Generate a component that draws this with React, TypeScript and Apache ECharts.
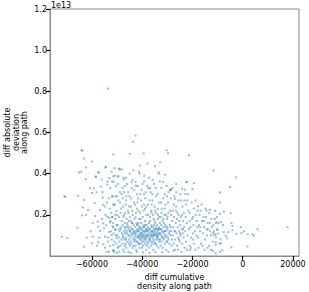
import React, { useEffect, useRef } from "react";
import * as echarts from "echarts";

// x: diff cumulative density along path; y: diff absolute deviation along path (in units of 1e13)
const outlierPoints: [number, number][] = [
  [-53600, 0.813], [-42600, 0.585], [-43600, 0.555],
];

const leftPoints: [number, number][] = [
  [-64000, 0.512], [-63200, 0.473], [-59900, 0.459], [-62400, 0.43], [-64300, 0.41], [-57200, 0.406],
  [-54700, 0.43], [-49300, 0.424], [-58500, 0.384], [-62500, 0.374], [-56100, 0.372], [-53100, 0.379],
  [-52000, 0.362], [-60800, 0.33], [-59300, 0.328], [-56500, 0.337], [-53900, 0.346], [-49700, 0.387],
  [-70700, 0.289], [-65600, 0.293], [-60000, 0.306], [-55700, 0.284], [-51900, 0.289], [-63200, 0.272],
  [-58900, 0.257], [-55500, 0.249], [-51500, 0.249], [-63600, 0.236], [-61500, 0.223], [-56800, 0.223],
  [-63900, 0.197], [-62400, 0.2], [-58700, 0.194], [-54600, 0.2], [-53100, 0.185], [-50700, 0.2],
  [-59700, 0.161], [-57700, 0.167], [-55500, 0.159], [-52800, 0.164], [-65800, 0.138], [-57500, 0.143],
  [-55200, 0.135], [-51800, 0.143], [-50200, 0.151], [-56800, 0.122], [-53100, 0.116], [-50700, 0.127],
  [-72000, 0.093], [-69800, 0.088], [-62100, 0.089], [-59700, 0.094], [-57100, 0.089], [-54800, 0.094],
  [-52200, 0.102], [-50200, 0.086], [-60100, 0.062], [-57500, 0.067], [-55500, 0.057], [-53500, 0.07],
  [-51500, 0.054], [-63100, 0.045], [-54200, 0.021], [-51500, 0.024], [-49500, 0.045], [-49100, 0.021],
  [-65200, 0.406], [-57500, 0.406], [-54400, 0.434], [-51100, 0.427], [-48200, 0.421], [-51500, 0.493],
  [-64100, 0.514], [-58500, 0.387], [-53800, 0.362], [-51500, 0.387], [-49500, 0.387], [-47300, 0.371],
  [-71000, 0.289], [-58200, 0.31], [-56000, 0.18], [-54000, 0.26], [-60500, 0.12], [-58000, 0.05],
];

const upperMidPoints: [number, number][] = [
  [-44900, 0.496], [-39400, 0.498], [-37900, 0.449], [-32800, 0.455], [-34900, 0.436], [-33500, 0.406],
  [-30900, 0.395], [-43600, 0.416], [-44200, 0.358], [-42500, 0.341], [-39200, 0.362], [-36900, 0.33],
  [-33000, 0.362], [-22400, 0.359], [-19400, 0.355], [-29000, 0.322], [-23000, 0.322], [-20000, 0.325],
  [-30300, 0.514], [-29700, 0.501], [-21400, 0.489], [-11600, 0.415], [-22200, 0.36], [-24100, 0.327],
  [-28600, 0.323], [-22800, 0.301], [-30200, 0.289], [-27000, 0.278], [-17800, 0.242], [-14400, 0.221],
  [-13100, 0.224], [-10400, 0.162], [-11800, 0.111], [-46500, 0.38], [-41000, 0.4], [-35800, 0.37],
  [-26500, 0.35], [-40800, 0.44], [-47800, 0.33], [-38600, 0.31],
];

const rightPoints: [number, number][] = [
  [-2700, 0.382], [-5100, 0.335], [-9100, 0.309], [-9000, 0.259], [-7500, 0.215], [-4800, 0.208],
  [-9100, 0.205], [-4500, 0.161], [-8700, 0.166], [-10700, 0.162], [-7800, 0.15], [-4100, 0.146],
  [-800, 0.14], [17800, 0.14], [5900, 0.13], [-10000, 0.127], [-4100, 0.125], [500, 0.12],
  [-7600, 0.116], [-5700, 0.116], [-2500, 0.107], [-500, 0.111], [2000, 0.106], [3900, 0.106],
  [4500, 0.099], [-10800, 0.106], [-6800, 0.099], [-6300, 0.086], [-8800, 0.081], [-10700, 0.067],
  [-8700, 0.062], [-10800, 0.054], [-4500, 0.042], [1900, 0.047], [-8200, 0.028], [-10800, 0.013],
  [-9100, 0.021],
];

const spreadPoints: [number, number][] = [
  [-55800, 0.31], [-54900, 0.24], [-54300, 0.15], [-53700, 0.09], [-53300, 0.28], [-52700, 0.33], [-52200, 0.41],
  [-51300, 0.36], [-50600, 0.29], [-49600, 0.35], [-48900, 0.42], [-48200, 0.3], [-47500, 0.38], [-46900, 0.34],
  [-46300, 0.29], [-45600, 0.31], [-45000, 0.4], [-44400, 0.28], [-43800, 0.37], [-43200, 0.32], [-42600, 0.36],
  [-41800, 0.34], [-41300, 0.41], [-40700, 0.3], [-39900, 0.35], [-39200, 0.39], [-38700, 0.28], [-38000, 0.34],
  [-37300, 0.38], [-36600, 0.31], [-35900, 0.27], [-35300, 0.35], [-34600, 0.33], [-33900, 0.3], [-33200, 0.4],
  [-32400, 0.33], [-31700, 0.36], [-31000, 0.3], [-30300, 0.34], [-29500, 0.31], [-28700, 0.28], [-27900, 0.33],
  [-27200, 0.29], [-26400, 0.31], [-25600, 0.27], [-24800, 0.3], [-24000, 0.24], [-23200, 0.27], [-22500, 0.25],
  [-21800, 0.3], [-21000, 0.21], [-20300, 0.26], [-19500, 0.23], [-18800, 0.27], [-18000, 0.22], [-17200, 0.2],
  [-16400, 0.25], [-15600, 0.19], [-14800, 0.23], [-14000, 0.16], [-13300, 0.21], [-12500, 0.18], [-11700, 0.15],
  [-11000, 0.22], [-10300, 0.19], [-9600, 0.16], [-25200, 0.17], [-26000, 0.21], [-24200, 0.2], [-22700, 0.19],
  [-21200, 0.17], [-19800, 0.19], [-18300, 0.17], [-16900, 0.14], [-15500, 0.17], [-14300, 0.13], [-12900, 0.12],
  [-11300, 0.1], [-53900, 0.19], [-52900, 0.23], [-51800, 0.19], [-50900, 0.25], [-49900, 0.29], [-48600, 0.21],
  [-47700, 0.28], [-46600, 0.25], [-45200, 0.24], [-44000, 0.22], [-42900, 0.25], [-41500, 0.22], [-40100, 0.24],
  [-38900, 0.23], [-37700, 0.25], [-36300, 0.21], [-35000, 0.22], [-33700, 0.2], [-32300, 0.21], [-31000, 0.23],
  [-29900, 0.19], [-28500, 0.2], [-27400, 0.25], [-26600, 0.22],
  [-54800, 0.04], [-53200, 0.02], [-50100, 0.015], [-47100, 0.02], [-44700, 0.015], [-42200, 0.02], [-39700, 0.018],
  [-37100, 0.015], [-34700, 0.02], [-32100, 0.018], [-29600, 0.02], [-27600, 0.025], [-25800, 0.03], [-24400, 0.02],
  [-22200, 0.03], [-20600, 0.04], [-18900, 0.03], [-17600, 0.04], [-16000, 0.05], [-14100, 0.04], [-12600, 0.03],
  [-11900, 0.025],
];

const densePoints: [number, number][] = [
  [-52800, 0.05], [-52500, 0.12], [-52300, 0.21], [-52100, 0.08], [-51900, 0.29], [-51700, 0.16], [-51500, 0.03],
  [-51400, 0.11], [-51200, 0.25], [-51000, 0.07], [-50800, 0.18], [-50700, 0.13], [-50500, 0.34], [-50300, 0.06],
  [-50200, 0.22], [-50000, 0.1], [-49800, 0.15], [-49700, 0.04], [-49500, 0.27], [-49300, 0.09], [-49200, 0.19],
  [-49000, 0.12], [-48900, 0.31], [-48700, 0.05], [-48600, 0.14], [-48400, 0.23], [-48300, 0.08], [-48100, 0.17],
  [-48000, 0.11], [-52600, 0.17], [-51100, 0.02], [-50900, 0.39], [-49900, 0.2], [-49100, 0.07], [-48500, 0.13],
  [-50400, 0.1], [-51600, 0.14], [-52000, 0.19], [-49400, 0.13], [-48800, 0.26],
  [-47900, 0.06], [-47800, 0.15], [-47700, 0.24], [-47600, 0.1], [-47500, 0.03], [-47400, 0.19], [-47300, 0.12],
  [-47200, 0.31], [-47100, 0.08], [-47000, 0.16], [-46900, 0.05], [-46800, 0.21], [-46700, 0.13], [-46600, 0.09],
  [-46500, 0.27], [-46400, 0.14], [-46300, 0.04], [-46200, 0.18], [-46100, 0.11], [-46000, 0.35], [-45900, 0.07],
  [-45800, 0.15], [-45700, 0.22], [-45600, 0.1], [-45500, 0.02], [-45400, 0.13], [-45300, 0.17], [-45200, 0.08],
  [-45100, 0.29], [-45000, 0.12], [-44900, 0.05], [-44800, 0.19], [-44700, 0.14], [-44600, 0.09], [-44500, 0.24],
  [-44400, 0.11], [-44300, 0.06], [-44200, 0.16], [-44100, 0.33], [-44000, 0.1], [-43900, 0.13], [-43800, 0.04],
  [-43700, 0.2], [-43600, 0.08], [-43500, 0.15], [-43400, 0.12], [-43300, 0.26], [-43200, 0.07], [-43100, 0.18],
  [-43000, 0.11], [-47650, 0.09], [-47150, 0.14], [-46650, 0.06], [-46150, 0.12], [-45650, 0.14], [-45150, 0.1],
  [-44650, 0.07], [-44150, 0.13], [-43650, 0.11], [-43150, 0.09], [-46850, 0.11], [-45350, 0.06], [-44350, 0.17],
  [-43450, 0.05], [-47350, 0.2], [-45950, 0.16], [-44850, 0.12], [-46450, 0.08], [-43850, 0.16], [-45450, 0.21],
  [-42900, 0.08], [-42800, 0.14], [-42700, 0.05], [-42600, 0.19], [-42500, 0.11], [-42400, 0.03], [-42300, 0.16],
  [-42200, 0.09], [-42100, 0.23], [-42000, 0.12], [-41900, 0.07], [-41800, 0.15], [-41700, 0.1], [-41600, 0.28],
  [-41500, 0.06], [-41400, 0.13], [-41300, 0.09], [-41200, 0.18], [-41100, 0.04], [-41000, 0.12], [-40900, 0.08],
  [-40800, 0.21], [-40700, 0.14], [-40600, 0.1], [-40500, 0.06], [-40400, 0.16], [-40300, 0.11], [-40200, 0.32],
  [-40100, 0.07], [-40000, 0.13], [-39900, 0.09], [-39800, 0.19], [-39700, 0.12], [-39600, 0.05], [-39500, 0.15],
  [-39400, 0.1], [-39300, 0.25], [-39200, 0.08], [-39100, 0.14], [-39000, 0.11], [-38900, 0.06], [-38800, 0.17],
  [-38700, 0.09], [-38600, 0.13], [-38500, 0.03], [-38400, 0.2], [-38300, 0.1], [-38200, 0.15], [-38100, 0.07],
  [-38000, 0.12], [-42950, 0.12], [-42650, 0.1], [-42350, 0.07], [-42050, 0.15], [-41750, 0.12], [-41450, 0.09],
  [-41150, 0.14], [-40850, 0.11], [-40550, 0.13], [-40250, 0.09], [-39950, 0.11], [-39650, 0.14], [-39350, 0.07],
  [-39050, 0.09], [-38750, 0.12], [-38450, 0.1], [-38150, 0.13], [-42450, 0.21], [-41850, 0.26], [-41250, 0.06],
  [-40650, 0.18], [-40050, 0.04], [-39450, 0.22], [-38850, 0.15], [-38250, 0.05], [-42150, 0.13], [-41550, 0.16],
  [-40950, 0.1], [-40350, 0.08], [-39750, 0.1], [-39150, 0.12], [-38550, 0.08], [-41950, 0.3], [-40450, 0.27],
  [-39250, 0.3], [-38350, 0.24],
  [-37900, 0.09], [-37800, 0.14], [-37700, 0.06], [-37600, 0.2], [-37500, 0.11], [-37400, 0.04], [-37300, 0.16],
  [-37200, 0.1], [-37100, 0.27], [-37000, 0.13], [-36900, 0.08], [-36800, 0.17], [-36700, 0.12], [-36600, 0.05],
  [-36500, 0.22], [-36400, 0.1], [-36300, 0.15], [-36200, 0.07], [-36100, 0.12], [-36000, 0.3], [-35900, 0.09],
  [-35800, 0.14], [-35700, 0.11], [-35600, 0.03], [-35500, 0.18], [-35400, 0.1], [-35300, 0.13], [-35200, 0.07],
  [-35100, 0.24], [-35000, 0.12], [-34900, 0.06], [-34800, 0.16], [-34700, 0.1], [-34600, 0.14], [-34500, 0.08],
  [-34400, 0.21], [-34300, 0.11], [-34200, 0.05], [-34100, 0.15], [-34000, 0.12], [-33900, 0.09], [-33800, 0.18],
  [-33700, 0.13], [-33600, 0.04], [-33500, 0.1], [-33400, 0.26], [-33300, 0.14], [-33200, 0.07], [-33100, 0.11],
  [-33000, 0.16], [-37950, 0.12], [-37650, 0.1], [-37350, 0.13], [-37050, 0.07], [-36750, 0.09], [-36450, 0.14],
  [-36150, 0.1], [-35850, 0.12], [-35550, 0.08], [-35250, 0.15], [-34950, 0.11], [-34650, 0.06], [-34350, 0.13],
  [-34050, 0.09], [-33750, 0.11], [-33450, 0.08], [-33150, 0.13], [-37550, 0.33], [-36850, 0.19], [-36250, 0.25],
  [-35650, 0.2], [-35050, 0.17], [-34450, 0.29], [-33850, 0.23], [-33250, 0.19], [-37250, 0.08], [-36550, 0.11],
  [-35950, 0.06], [-35350, 0.1], [-34750, 0.13], [-34150, 0.1], [-33550, 0.13],
  [-32900, 0.08], [-32800, 0.13], [-32700, 0.05], [-32600, 0.19], [-32500, 0.1], [-32400, 0.15], [-32300, 0.07],
  [-32200, 0.23], [-32100, 0.12], [-32000, 0.09], [-31900, 0.17], [-31800, 0.04], [-31700, 0.11], [-31600, 0.28],
  [-31500, 0.14], [-31400, 0.08], [-31300, 0.12], [-31200, 0.2], [-31100, 0.06], [-31000, 0.1], [-30900, 0.15],
  [-30800, 0.09], [-30700, 0.25], [-30600, 0.12], [-30500, 0.03], [-30400, 0.14], [-30300, 0.1], [-30200, 0.18],
  [-30100, 0.07], [-30000, 0.13], [-29800, 0.09], [-29600, 0.21], [-29400, 0.11], [-29200, 0.06], [-29000, 0.15],
  [-28800, 0.1], [-28600, 0.32], [-28400, 0.12], [-28200, 0.08], [-28000, 0.17], [-32850, 0.11], [-32350, 0.13],
  [-31850, 0.09], [-31350, 0.16], [-30850, 0.12], [-30350, 0.07], [-29900, 0.14], [-29500, 0.08], [-29100, 0.12],
  [-28700, 0.14], [-28300, 0.05], [-32550, 0.26], [-31650, 0.18], [-30650, 0.2], [-29700, 0.26], [-28900, 0.22],
  [-27900, 0.1], [-27700, 0.14], [-27500, 0.06], [-27300, 0.19], [-27100, 0.12], [-26900, 0.08], [-26700, 0.16],
  [-26500, 0.24], [-26300, 0.11], [-26100, 0.05], [-25900, 0.14], [-25700, 0.09], [-25500, 0.2], [-25300, 0.12],
  [-25100, 0.07], [-24900, 0.15], [-24700, 0.1], [-24500, 0.27], [-24300, 0.13], [-24100, 0.06], [-23900, 0.11],
  [-23700, 0.17], [-23500, 0.09], [-23300, 0.14], [-23100, 0.04], [-27800, 0.22], [-27000, 0.03], [-26200, 0.18],
  [-25400, 0.08], [-24600, 0.19], [-23800, 0.13], [-26800, 0.12], [-25000, 0.11], [-23400, 0.21],
  [-22900, 0.12], [-22600, 0.07], [-22300, 0.16], [-22000, 0.1], [-21700, 0.22], [-21400, 0.13], [-21100, 0.05],
  [-20800, 0.14], [-20500, 0.09], [-20200, 0.18], [-19900, 0.11], [-19600, 0.15], [-19300, 0.06], [-19000, 0.12],
  [-18700, 0.2], [-18400, 0.1], [-18100, 0.14], [-22100, 0.27], [-20900, 0.03], [-19700, 0.08],
  [-17800, 0.09], [-17400, 0.15], [-17000, 0.12], [-16600, 0.06], [-16200, 0.17], [-15800, 0.11], [-15400, 0.14],
  [-15000, 0.08], [-14600, 0.19], [-14200, 0.1], [-13800, 0.13], [-13400, 0.05], [-13100, 0.16], [-16800, 0.22],
  [-15200, 0.03],
  [-12700, 0.1], [-12300, 0.14], [-11900, 0.07], [-11500, 0.12], [-11100, 0.18], [-10600, 0.09], [-10200, 0.13],
  [-9700, 0.11], [-9300, 0.06],
];

const xTicks = [-60000, -40000, -20000, 0, 20000];
const yTicks = [0.2, 0.4, 0.6, 0.8, 1.0, 1.2];
const xRange = [-76700, 22400];
const yRange = [0, 1.2];
const offsetLabel = "1e13";
const xTitle = "diff cumulative\ndensity along path";
const yTitle = "diff absolute\ndeviation\nalong path";

const allPoints = [...densePoints, ...spreadPoints, ...leftPoints, ...upperMidPoints, ...rightPoints, ...outlierPoints];

export default function App() {
  const ref = useRef<HTMLDivElement>(null);
  useEffect(() => {
    if (!ref.current) return;
    const chart = echarts.init(ref.current, null, { renderer: "svg" });
    const font = "DejaVu Sans";
    const spine = "#8c8c8c";
    chart.setOption({
      animation: false,
      backgroundColor: "#ffffff",
      grid: { left: 50, right: 10, top: 9, bottom: 36, show: true, borderColor: spine, borderWidth: 1, outerBoundsMode: "none" },
      xAxis: {
        type: "value",
        min: xRange[0],
        max: xRange[1],
        name: xTitle,
        nameLocation: "middle",
        nameGap: 17,
        nameMoveOverlap: false,
        nameTextStyle: { fontFamily: font, fontSize: 8, color: "#000", lineHeight: 9, verticalAlign: "top" },
        axisLine: { show: true, onZero: false, lineStyle: { color: spine, width: 1 } },
        axisTick: { show: true, length: 4, lineStyle: { color: "#000", width: 1.2 }, customValues: xTicks },
        axisLabel: {
          customValues: xTicks,
          fontFamily: font,
          fontSize: 8,
          color: "#000",
          margin: 4,
          formatter: (v: number) => String(v).replace("-", "\u2212"),
        },
        splitLine: { show: false },
      },
      yAxis: {
        type: "value",
        min: yRange[0],
        max: yRange[1],
        name: yTitle,
        nameLocation: "middle",
        nameRotate: 90,
        nameGap: 21,
        nameMoveOverlap: false,
        nameTextStyle: { fontFamily: font, fontSize: 8, color: "#000", lineHeight: 8.5, verticalAlign: "bottom" },
        axisLine: { show: true, onZero: false, lineStyle: { color: spine, width: 1 } },
        axisTick: { show: true, length: 4, lineStyle: { color: "#000", width: 1.2 }, customValues: yTicks },
        axisLabel: {
          customValues: yTicks,
          fontFamily: font,
          fontSize: 8,
          color: "#000",
          margin: 3,
          formatter: (v: number) => v.toFixed(1),
        },
        splitLine: { show: false },
      },
      graphic: [
        {
          type: "text",
          left: 51,
          top: 1,
          style: { text: offsetLabel, font: `8px ${font}`, fill: "#000" },
        },
      ],
      series: [
        {
          type: "scatter",
          data: allPoints,
          symbol: "rect",
          symbolSize: 2,
          itemStyle: { color: "rgba(31,119,180,0.6)" },
          silent: true,
        },
      ],
    });
    return () => chart.dispose();
  }, []);
  return <div ref={ref} style={{ position: "fixed", left: 0, top: 0, width: 309, height: 292 }} />;
}
